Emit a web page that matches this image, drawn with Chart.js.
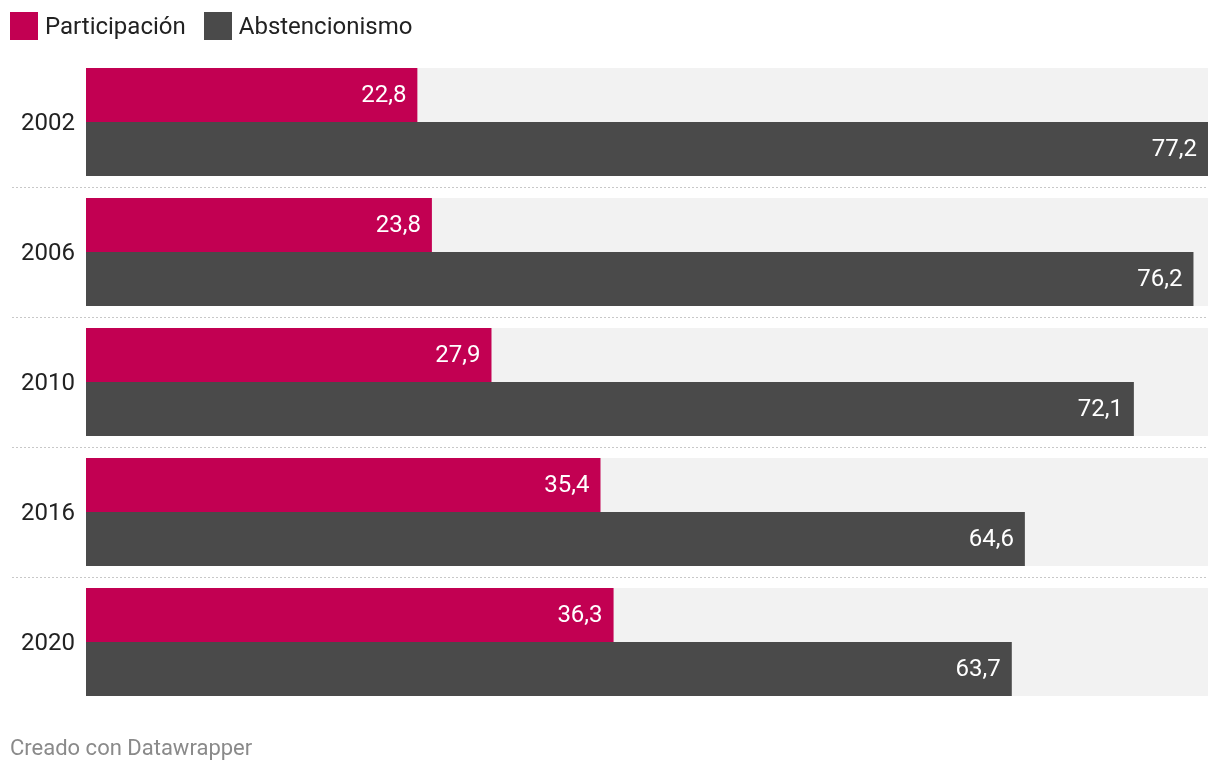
<!DOCTYPE html>
<html lang="es">
<head>
<meta charset="utf-8">
<script src="https://cdn.jsdelivr.net/npm/chart.js@4.4.1/dist/chart.umd.min.js"></script>
<style>
  html, body { margin: 0; padding: 0; background: #fff; }
  body { width: 1220px; height: 774px; position: relative; overflow: hidden; font-family: Roboto, sans-serif; }
  #chartWrap { position: absolute; left: 0; top: 0; width: 1220px; height: 774px; }
  .legend { position: absolute; left: 10px; top: 12px; display: flex; align-items: center; font-size: 24px; color: #222; }
  .legend-item { display: flex; align-items: center; margin-right: 18px; }
  .legend-swatch { width: 28px; height: 28px; margin-right: 7px; }
  .footer { position: absolute; left: 10px; top: 735px; font-size: 22px; color: #8a8a8a; }
</style>
</head>
<body>
<div id="chartWrap"><canvas id="chart"></canvas></div>
<div class="legend" id="legend"></div>
<div class="footer">Creado con Datawrapper</div>
<script>
const years = ["2002", "2006", "2010", "2016", "2020"];
const participacion = [22.8, 23.8, 27.9, 35.4, 36.3];
const abstencionismo = [77.2, 76.2, 72.1, 64.6, 63.7];

const seriesNames = ["Participación", "Abstencionismo"];
const seriesColors = ["#c20052", "#4a4a4a"];

const axisMax = Math.max(...participacion, ...abstencionismo);

function formatValue(value) {
  return value.toFixed(1).replace(".", ",");
}

// grey track behind each year group
const trackPlugin = {
  id: "tracks",
  beforeDatasetsDraw(chart) {
    const { ctx, chartArea } = chart;
    const first = chart.getDatasetMeta(0).data;
    const second = chart.getDatasetMeta(1).data;
    ctx.save();
    ctx.fillStyle = "#f2f2f2";
    first.forEach((bar, i) => {
      const top = bar.y - bar.height / 2;
      const bottom = second[i].y + second[i].height / 2;
      ctx.fillRect(chartArea.left, top, chartArea.right - chartArea.left, bottom - top);
    });
    ctx.restore();
  }
};

// dotted lines between year groups
const separatorPlugin = {
  id: "separators",
  afterDatasetsDraw(chart) {
    const { ctx, chartArea, scales } = chart;
    const yScale = scales.y;
    ctx.save();
    ctx.strokeStyle = "#c8c8c8";
    ctx.lineWidth = 1;
    ctx.setLineDash([2, 2]);
    for (let i = 0; i < years.length - 1; i++) {
      const y = Math.round((yScale.getPixelForValue(i) + yScale.getPixelForValue(i + 1)) / 2) + 0.5;
      ctx.beginPath();
      ctx.moveTo(12, y);
      ctx.lineTo(chartArea.right, y);
      ctx.stroke();
    }
    ctx.restore();
  }
};

// values written inside the end of each bar
const valueLabelPlugin = {
  id: "valueLabels",
  afterDatasetsDraw(chart) {
    const { ctx } = chart;
    ctx.save();
    ctx.font = "24px Roboto";
    ctx.fillStyle = "#ffffff";
    ctx.textAlign = "right";
    ctx.textBaseline = "middle";
    chart.data.datasets.forEach((dataset, d) => {
      chart.getDatasetMeta(d).data.forEach((bar, i) => {
        ctx.fillText(formatValue(dataset.data[i]), bar.x - 11, bar.y + 1);
      });
    });
    ctx.restore();
  }
};

function renderLegend() {
  const legend = document.getElementById("legend");
  legend.innerHTML = seriesNames
    .map(
      (name, i) => `
      <div class="legend-item">
        <span class="legend-swatch" style="background:${seriesColors[i]}"></span>
        <span>${name}</span>
      </div>
    `
    )
    .join("");
}

function renderChart() {
  const ctx = document.getElementById("chart");
  new Chart(ctx, {
    type: "bar",
    data: {
      labels: years,
      datasets: [
        {
          label: seriesNames[0],
          data: participacion,
          backgroundColor: seriesColors[0],
          barPercentage: 1,
          categoryPercentage: 108 / 130
        },
        {
          label: seriesNames[1],
          data: abstencionismo,
          backgroundColor: seriesColors[1],
          barPercentage: 1,
          categoryPercentage: 108 / 130
        }
      ]
    },
    options: {
      indexAxis: "y",
      responsive: true,
      maintainAspectRatio: false,
      animation: false,
      layout: {
        padding: { left: 0, right: 12, top: 57, bottom: 67 }
      },
      scales: {
        x: {
          display: false,
          min: 0,
          max: axisMax
        },
        y: {
          grid: { display: false },
          border: { display: false },
          ticks: {
            color: "#222",
            font: { family: "Roboto", size: 24 },
            padding: 3,
            labelOffset: 2
          },
          afterFit(scale) {
            scale.width = 86;
          }
        }
      },
      plugins: {
        legend: { display: false },
        tooltip: { enabled: false }
      }
    },
    plugins: [trackPlugin, separatorPlugin, valueLabelPlugin]
  });
}

window.addEventListener("DOMContentLoaded", () => {
  renderLegend();
  renderChart();
});
</script>
</body>
</html>
